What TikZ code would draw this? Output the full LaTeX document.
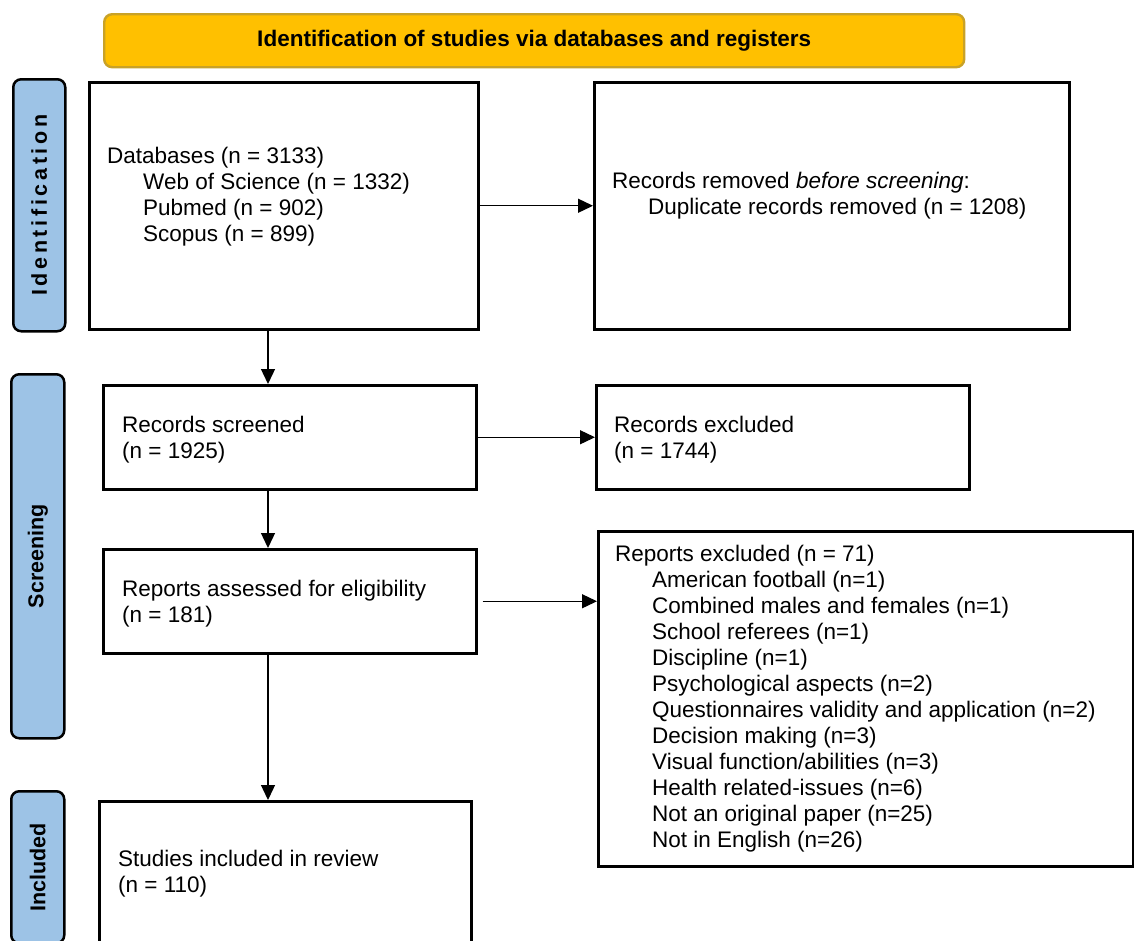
\documentclass[tikz,border=0pt]{standalone}
\usepackage{fontspec}
\setmainfont{Liberation Sans}
\usetikzlibrary{arrows.meta,calc}
\definecolor{bannerfill}{HTML}{FFC000}
\definecolor{bannerline}{HTML}{C9A227}
\definecolor{phasefill}{HTML}{9DC3E6}
\tikzset{
  box/.style={draw=black, line width=2.5pt, fill=white, inner sep=0pt, anchor=north west},
  phase/.style={draw=black, line width=2.5pt, fill=phasefill, rounded corners=8pt, inner sep=0pt, anchor=north west},
  phasetext/.style={font=\fontsize{21.5}{25}\selectfont\bfseries, rotate=90, inner sep=0pt},
  txt/.style={font=\fontsize{22.5}{26}\selectfont, align=left, inner sep=0pt, anchor=north west},
  arr/.style={line width=1.3pt, -{Triangle[length=15pt,width=14pt]}},
}
\begin{document}
\begin{tikzpicture}[x=1pt,y=-1pt]
\useasboundingbox (0,0) rectangle (1134,940);
\clip (0,0) rectangle (1134,940);
\fill[white] (0,0) rectangle (1134,940);
% banner
\node[draw=bannerline, line width=2.4pt, fill=bannerfill, rounded corners=8pt, minimum width=860pt, minimum height=53pt, inner sep=0pt, anchor=north west,
  font=\fontsize{22.5}{26}\selectfont\bfseries] (banner) at (103,13) {Identification of studies via databases and registers};
% phase labels
\node[phase, minimum width=52pt, minimum height=252pt] (pid) at (12,78) {};
\node[phasetext] at (pid.center) {\addfontfeature{LetterSpace=17}Identification};
\node[phase, minimum width=53pt, minimum height=364pt] (pscr) at (10,373) {};
\node[phasetext] at (pscr.center) {Screening};
\node[phase, minimum width=53pt, minimum height=152pt] (pinc) at (10,790) {};
\node[phasetext] at (pinc.center) {Included};
% boxes
\node[box, minimum width=389pt, minimum height=247pt] (db) at (88,81) {};
\node[box, minimum width=475pt, minimum height=247pt] (rr) at (593,81) {};
\node[box, minimum width=373pt, minimum height=104pt] (rs) at (102,384) {};
\node[box, minimum width=373pt, minimum height=104pt] (rx) at (595,384) {};
\node[box, minimum width=373pt, minimum height=104pt] (ra) at (102,548) {};
\node[box, minimum width=535pt, minimum height=335pt] (re) at (597,530) {};
\node[box, minimum width=372pt, minimum height=150pt] (si) at (98,800) {};
% texts
\node[txt] (tdb) at (107,145) {\strut Databases (n = 3133)\\
\hspace*{36pt}Web of Science (n = 1332)\\
\hspace*{36pt}Pubmed (n = 902)\\
\hspace*{36pt}Scopus (n = 899)};
\node[txt] (trr) at (612,170) {\strut Records removed \textit{before screening}:\\
\hspace*{36pt}Duplicate records removed (n = 1208)};
\node[txt] (trs) at (122,414) {\strut Records screened\\(n = 1925)};
\node[txt] (trx) at (614,414) {\strut Records excluded\\(n = 1744)};
\node[txt] (tra) at (122,578) {\strut Reports assessed for eligibility\\(n = 181)};
\node[txt] (tre) at (615,543) {\strut Reports excluded (n = 71)\\
\hspace*{37pt}American football (n=1)\\
\hspace*{37pt}Combined males and females (n=1)\\
\hspace*{37pt}School referees (n=1)\\
\hspace*{37pt}Discipline (n=1)\\
\hspace*{37pt}Psychological aspects (n=2)\\
\hspace*{37pt}Questionnaires validity and application (n=2)\\
\hspace*{37pt}Decision making (n=3)\\
\hspace*{37pt}Visual function/abilities (n=3)\\
\hspace*{37pt}Health related-issues (n=6)\\
\hspace*{37pt}Not an original paper (n=25)\\
\hspace*{37pt}Not in English (n=26)};
\node[txt] (tsi) at (118,848) {\strut Studies included in review\\(n = 110)};
% connectors
\coordinate (ax) at (268,0);
\draw[arr] (db.east) -- (rr.west);
\draw[arr] (rs.east) -- (rx.west);
\draw[arr] ([xshift=5pt]ra.east) -- (ra.east -| re.west);
\draw[arr] (db.south -| ax) -- (rs.north -| ax);
\draw[arr] (rs.south -| ax) -- (ra.north -| ax);
\draw[arr] (ra.south -| ax) -- (si.north -| ax);
\end{tikzpicture}
\end{document}
